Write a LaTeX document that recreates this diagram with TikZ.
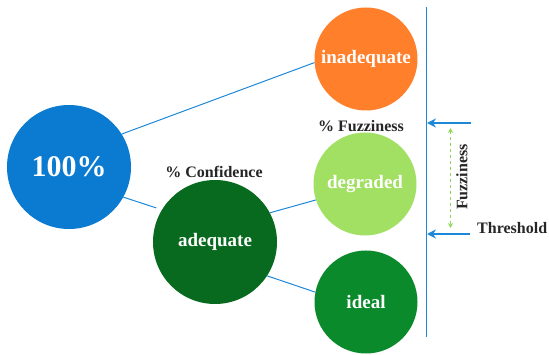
\documentclass[tikz,border=0pt]{standalone}
\usepackage{fontspec}
\setmainfont{Liberation Serif}
\usetikzlibrary{arrows.meta}
\definecolor{cblue}{HTML}{0A7BD0}
\definecolor{corange}{HTML}{FF7F2A}
\definecolor{clight}{HTML}{A2E063}
\definecolor{cdark}{HTML}{086A1E}
\definecolor{cmid}{HTML}{0A8A2A}
\definecolor{cline}{HTML}{1E88D8}
\definecolor{cdash}{HTML}{8ED85A}
\tikzset{
  ball/.style={circle, inner sep=0pt, text=white, font=\bfseries\fontsize{19}{22}\selectfont},
  link/.style={draw=cline, line width=1pt},
  label/.style={font=\bfseries\fontsize{16}{19}\selectfont, text=black!85, inner sep=0pt},
  thr/.style={draw=cline, line width=1.6pt, -{Stealth[length=9pt,width=9pt]}},
}
\begin{document}
\begin{tikzpicture}[x=1pt,y=-1pt]
\useasboundingbox (0,0) rectangle (549,355);
\node[ball, fill=cblue, minimum size=124pt, font=\bfseries\fontsize{30}{34}\selectfont] (h) at (69,167) {100\%};
\node[ball, fill=corange, minimum size=103pt] (in) at (366,59) {inadequate};
\node[ball, fill=clight, minimum size=103pt] (de) at (365,184) {degraded};
\node[ball, fill=cdark, minimum size=124pt] (ad) at (215,242) {adequate};
\node[ball, fill=cmid, minimum size=103pt] (id) at (366,302) {ideal};
\draw[link] (h.32) -- (in.184);
\draw[link] (h.-29) -- ([shift={(-5,-3)}]ad.150);
\draw[link] (ad.28) -- (de.198);
\draw[link] (ad.-33) -- (id.169);
\node[label] (pc) at (214,172) {\% Confidence};
\node[label] (pf) at (361,126) {\% Fuzziness};
\coordinate (vt) at (426.5,7);
\coordinate (vb) at (426.5,337);
\draw[draw=cline, line width=1.8pt] (vt) -- (vb);
\coordinate (a1) at (471,123);
\coordinate (a1e) at (427,123);
\coordinate (a2) at (470,234);
\coordinate (a2e) at (427,234);
\draw[thr] (a1) -- (a1e);
\draw[thr] (a2) -- (a2e);
\coordinate (dt) at (450.5,128);
\coordinate (db) at (450.5,228);
\draw[draw=cdash, line width=1.2pt, dashed, {Stealth[length=5pt,width=5pt]}-{Stealth[length=5pt,width=5pt]}] (dt) -- (db);
\node[label, rotate=90] (fz) at (462,177) {Fuzziness};
\node[label, anchor=west] (th) at (477,228) {Threshold};
\end{tikzpicture}
\end{document}
